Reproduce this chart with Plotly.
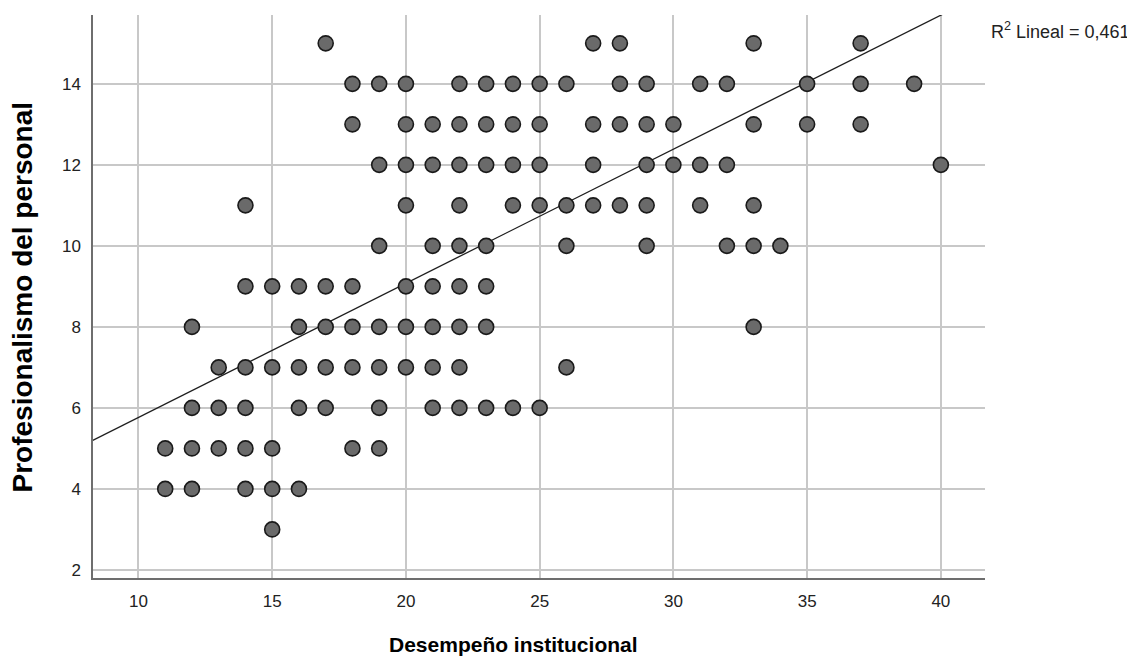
import plotly.graph_objects as go

# Observed (x, y) combinations, grouped by y value (Profesionalismo del personal)
rows = {
    15: [17, 27, 28, 33, 37],
    14: [18, 19, 20, 22, 23, 24, 25, 26, 28, 29, 31, 32, 35, 37, 39],
    13: [18, 20, 21, 22, 23, 24, 25, 27, 28, 29, 30, 33, 35, 37],
    12: [19, 20, 21, 22, 23, 24, 25, 27, 29, 30, 31, 32, 40],
    11: [14, 20, 22, 24, 25, 26, 27, 28, 29, 31, 33],
    10: [19, 21, 22, 23, 26, 29, 32, 33, 34],
    9: [14, 15, 16, 17, 18, 20, 21, 22, 23],
    8: [12, 16, 17, 18, 19, 20, 21, 22, 23, 33],
    7: [13, 14, 15, 16, 17, 18, 19, 20, 21, 22, 26],
    6: [12, 13, 14, 16, 17, 19, 21, 22, 23, 24, 25],
    5: [11, 12, 13, 14, 15, 18, 19],
    4: [11, 12, 14, 15, 16],
    3: [15],
}
x_vals = [x for y, xs in rows.items() for x in xs]
y_vals = [y for y, xs in rows.items() for x in xs]

# Fitted linear line
intercept = 2.456
slope = 0.331
r2_text = "R<sup>2</sup> Lineal = 0,461"

x_ticks = [10, 15, 20, 25, 30, 35, 40]
y_ticks = [2, 4, 6, 8, 10, 12, 14]
x_range = [8.3, 41.65]
y_range = [1.8, 15.7]

line_x = [x_range[0] - 1, x_range[1] + 1]
line_y = [intercept + slope * v for v in line_x]

fig = go.Figure()
fig.add_trace(go.Scatter(
    x=line_x, y=line_y, mode="lines",
    line=dict(color="#1e1e1e", width=1.3),
    hoverinfo="skip", showlegend=False,
))
fig.add_trace(go.Scatter(
    x=x_vals, y=y_vals, mode="markers",
    marker=dict(size=15, color="#6a6a6a", line=dict(color="#1a1a1a", width=1.6)),
    showlegend=False,
))

font_family = "Liberation Sans, Arial, sans-serif"
fig.update_layout(
    width=1127, height=655,
    margin=dict(l=85, r=150, t=7, b=85),
    paper_bgcolor="white", plot_bgcolor="white",
    font=dict(family=font_family, color="#222222", size=17),
    xaxis=dict(
        range=x_range, tickvals=x_ticks, ticktext=[str(v) for v in x_ticks],
        showgrid=True, gridcolor="#c8c8c8", gridwidth=1.5,
        showline=True, linecolor="#6e6e6e", linewidth=1.5,
        zeroline=False, ticks="", ticklabelstandoff=7,
        tickfont=dict(size=17, color="#222222"),
    ),
    yaxis=dict(
        range=y_range, tickvals=y_ticks, ticktext=[str(v) for v in y_ticks],
        showgrid=True, gridcolor="#c8c8c8", gridwidth=1.5,
        showline=True, linecolor="#6e6e6e", linewidth=1.5,
        zeroline=False, ticks="", ticklabelstandoff=7,
        tickfont=dict(size=17, color="#222222"),
    ),
    annotations=[
        dict(text="<b>Desempeño institucional</b>", xref="paper", yref="paper",
             x=0.471, y=-0.119, xanchor="center", yanchor="middle",
             showarrow=False, font=dict(size=21, color="#000000")),
        dict(text="<b>Profesionalismo del personal</b>", xref="paper", yref="paper",
             x=-0.0785, y=0.5, xanchor="center", yanchor="middle", textangle=-90,
             showarrow=False, font=dict(size=28, color="#000000")),
        dict(text=r2_text, xref="paper", yref="paper",
             x=1.0045, y=0.9716, xanchor="left", yanchor="middle",
             showarrow=False, font=dict(size=18, color="#222222")),
    ],
)

fig.write_html("out.html")
